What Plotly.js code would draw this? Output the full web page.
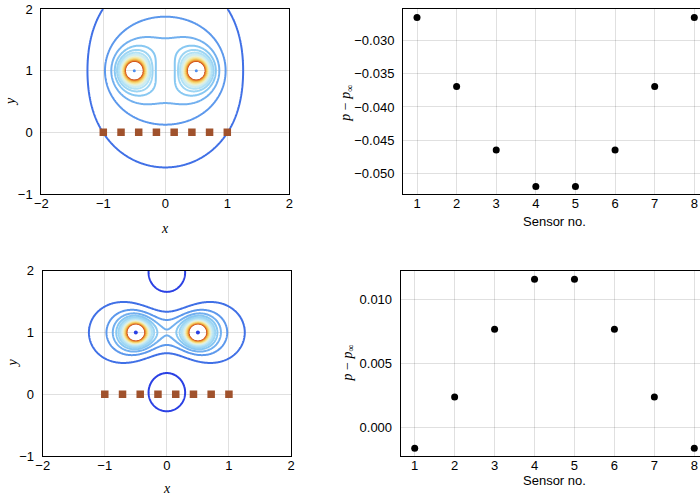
<!DOCTYPE html>
<html>
<head>
<meta charset="utf-8">
<script src="https://cdn.plot.ly/plotly-3.0.1.min.js"></script>
<style>html,body{margin:0;padding:0;background:#fff;}#plot{width:700px;height:496px;}</style>
</head>
<body>
<div id="plot"></div>
<script>
// ---- data ----
const vortexX = [-0.5, 0.5];
const vortexY = [1.0, 1.0];
const gammaTop = [1, 1];        // co-rotating pair (top row)
const gammaBottom = [1, -1];    // counter-rotating pair (bottom row)
const sensorX = [-1, -0.714, -0.429, -0.143, 0.143, 0.429, 0.714, 1];
const sensorY = [0, 0, 0, 0, 0, 0, 0, 0];
const sensorNo = [1, 2, 3, 4, 5, 6, 7, 8];
const pTop = [-0.0265, -0.0369, -0.0465, -0.0520, -0.0520, -0.0465, -0.0369, -0.0265];
const pBottom = [-0.0016, 0.0024, 0.0077, 0.0116, 0.0116, 0.0077, 0.0024, -0.0016];
const levelLow = -0.5693, levelHigh = 0.0099, levelStep = 0.0362;
const leftTicksX = [-2, -1, 0, 1, 2];
const leftTicksY = [-1, 0, 1, 2];
const topTicksY = [-0.050, -0.045, -0.040, -0.035, -0.030];
const bottomTicksY = [0.000, 0.005, 0.010];

// ---- pressure field of point vortices (unsteady Bernoulli) ----
function vortexVelocities(gam) {
  return vortexX.map((xi, i) => {
    let u = 0, v = 0;
    vortexX.forEach((xj, j) => {
      if (i === j) return;
      const dx = xi - xj, dy = vortexY[i] - vortexY[j], r2 = dx*dx + dy*dy;
      const k = gam[j] / (2*Math.PI*r2);
      u += -k*dy; v += k*dx;
    });
    return [u, v];
  });
}
const gx = [], gy = [];
for (let i = 0; i <= 400; i++) gx.push(-2 + i*0.01);
for (let j = 0; j <= 300; j++) gy.push(-1 + j*0.01);
function field(gam) {
  const V = vortexVelocities(gam);
  const z = [];
  for (let j = 0; j < gy.length; j++) {
    const row = [];
    for (let i = 0; i < gx.length; i++) {
      let u = 0, v = 0, dphi = 0, bad = false;
      for (let k = 0; k < vortexX.length; k++) {
        const dx = gx[i] - vortexX[k], dy = gy[j] - vortexY[k], r2 = dx*dx + dy*dy;
        if (r2 < 1e-8) { bad = true; break; }
        const c = gam[k] / (2*Math.PI*r2);
        u += -c*dy; v += c*dx;
        dphi += -c*(-dy*V[k][0] + dx*V[k][1]);
      }
      let p = bad ? -10 : -(dphi + 0.5*(u*u + v*v));
      if (p < -10) p = -10;
      row.push(p);
    }
    z.push(row);
  }
  return z;
}

const cscale = [
  [0, '#c84418'], [0.1, '#dc6a22'], [0.2, '#ec9a38'], [0.3, '#f4c95a'],
  [0.42, '#f6e9a0'], [0.52, '#dff3ee'], [0.62, '#b4e3f5'], [0.75, '#88c8f2'],
  [0.875, '#5c98ec'], [0.9375, '#4070e6'], [1, '#2a40e4']
];
function contourTrace(gam, xa, ya) {
  return {
    type: 'contour', x: gx, y: gy, z: field(gam), xaxis: xa, yaxis: ya,
    autocontour: false,
    contours: {start: levelLow, end: levelHigh, size: levelStep, coloring: 'lines', showlabels: false},
    line: {width: 2, smoothing: 0},
    colorscale: cscale, showscale: false, hoverinfo: 'skip'
  };
}
const sensorStyle = {symbol: 'square', size: 7.5, color: '#a0522d'};
const traces = [
  contourTrace(gammaTop, 'x', 'y'),
  {type: 'scatter', mode: 'markers', x: vortexX, y: vortexY, xaxis: 'x', yaxis: 'y',
   marker: {size: 3, color: '#4f8fef'}, hoverinfo: 'skip'},
  {type: 'scatter', mode: 'markers', x: sensorX, y: sensorY, xaxis: 'x', yaxis: 'y',
   marker: sensorStyle, hoverinfo: 'skip'},
  {type: 'scatter', mode: 'markers', x: sensorNo, y: pTop, xaxis: 'x2', yaxis: 'y2',
   marker: {size: 7, color: '#000'}, hoverinfo: 'skip'},
  contourTrace(gammaBottom, 'x3', 'y3'),
  {type: 'scatter', mode: 'markers', x: vortexX, y: vortexY, xaxis: 'x3', yaxis: 'y3',
   marker: {size: 4, color: '#2a40e4'}, hoverinfo: 'skip'},
  {type: 'scatter', mode: 'markers', x: sensorX, y: sensorY, xaxis: 'x3', yaxis: 'y3',
   marker: sensorStyle, hoverinfo: 'skip'},
  {type: 'scatter', mode: 'markers', x: sensorNo, y: pBottom, xaxis: 'x4', yaxis: 'y4',
   marker: {size: 7, color: '#000'}, hoverinfo: 'skip'}
];

const tickFont = {family: 'Liberation Sans, Arial, sans-serif', size: 13, color: '#000'};
function ax(extra) {
  return Object.assign({
    showline: true, linecolor: '#000', linewidth: 1, showgrid: true,
    gridcolor: 'rgba(0,0,0,0.12)', gridwidth: 1, zeroline: false,
    ticks: 'outside', ticklen: 5, tickcolor: 'rgba(0,0,0,0)',
    tickfont: tickFont, fixedrange: true, tickmode: 'array'
  }, extra);
}
const xTickOpts = {ticks: '', ticklen: 0, ticklabelstandoff: -3};
const W = 700, H = 496;
const px = v => v / W, py = v => 1 - v / H;
const layout = {
  width: W, height: H, margin: {l: 0, r: 0, t: 0, b: 0, pad: 0},
  paper_bgcolor: '#fff', plot_bgcolor: '#fff', showlegend: false, hovermode: false,
  xaxis: ax(Object.assign({domain: [px(41.3), px(289.3)], range: [-2, 2], tickvals: leftTicksX, mirror: true, anchor: 'y'}, xTickOpts)),
  yaxis: ax({domain: [py(194), py(9)], range: [-1, 2], tickvals: leftTicksY, mirror: true, anchor: 'x'}),
  xaxis2: ax(Object.assign({domain: [px(403), 1], range: [0.6466, 8.1439], tickvals: sensorNo, mirror: true, anchor: 'y2'}, xTickOpts)),
  yaxis2: ax({domain: [py(194.3), py(9)], range: [-0.05317, -0.02522], tickvals: topTicksY,
              tickformat: '.3f', anchor: 'x2'}),
  xaxis3: ax(Object.assign({domain: [px(42.7), px(291)], range: [-2, 2], tickvals: leftTicksX, mirror: true, anchor: 'y3'}, xTickOpts)),
  yaxis3: ax({domain: [py(456), py(270.7)], range: [-1, 2], tickvals: leftTicksY, mirror: true, anchor: 'x3'}),
  xaxis4: ax(Object.assign({domain: [px(400.7), 1], range: [0.6495, 8.1427], tickvals: sensorNo, mirror: true, anchor: 'y4'}, xTickOpts)),
  yaxis4: ax({domain: [py(456), py(270.7)], range: [-0.00221, 0.01227], tickvals: bottomTicksY,
              tickformat: '.3f', anchor: 'x4'}),
  annotations: []
};
const mathFont = {family: 'Liberation Serif, DejaVu Serif, serif', size: 14, color: '#000'};
const labFont = {family: 'Liberation Sans, Arial, sans-serif', size: 13, color: '#000'};
function lab(text, x, y, font, angle) {
  layout.annotations.push({text: text, x: px(x), y: py(y), xref: 'paper', yref: 'paper',
    showarrow: false, xanchor: 'center', yanchor: 'middle', font: font, textangle: angle || 0});
}
lab('<i>x</i>', 165.3, 228, mathFont);
lab('<i>y</i>', 10.5, 101.5, mathFont, -90);
lab('<i>x</i>', 166.8, 488, mathFont);
lab('<i>y</i>', 11.5, 363, mathFont, -90);
lab('Sensor no.', 554.7, 221.5, labFont);
lab('Sensor no.', 554.2, 480.5, labFont);
lab('<i>p</i> − <i>p</i><sub>∞</sub>', 346.7, 103, mathFont, -90);
lab('<i>p</i> − <i>p</i><sub>∞</sub>', 347.5, 363, mathFont, -90);

Plotly.newPlot('plot', traces, layout, {displayModeBar: false, staticPlot: true});
</script>
</body>
</html>
